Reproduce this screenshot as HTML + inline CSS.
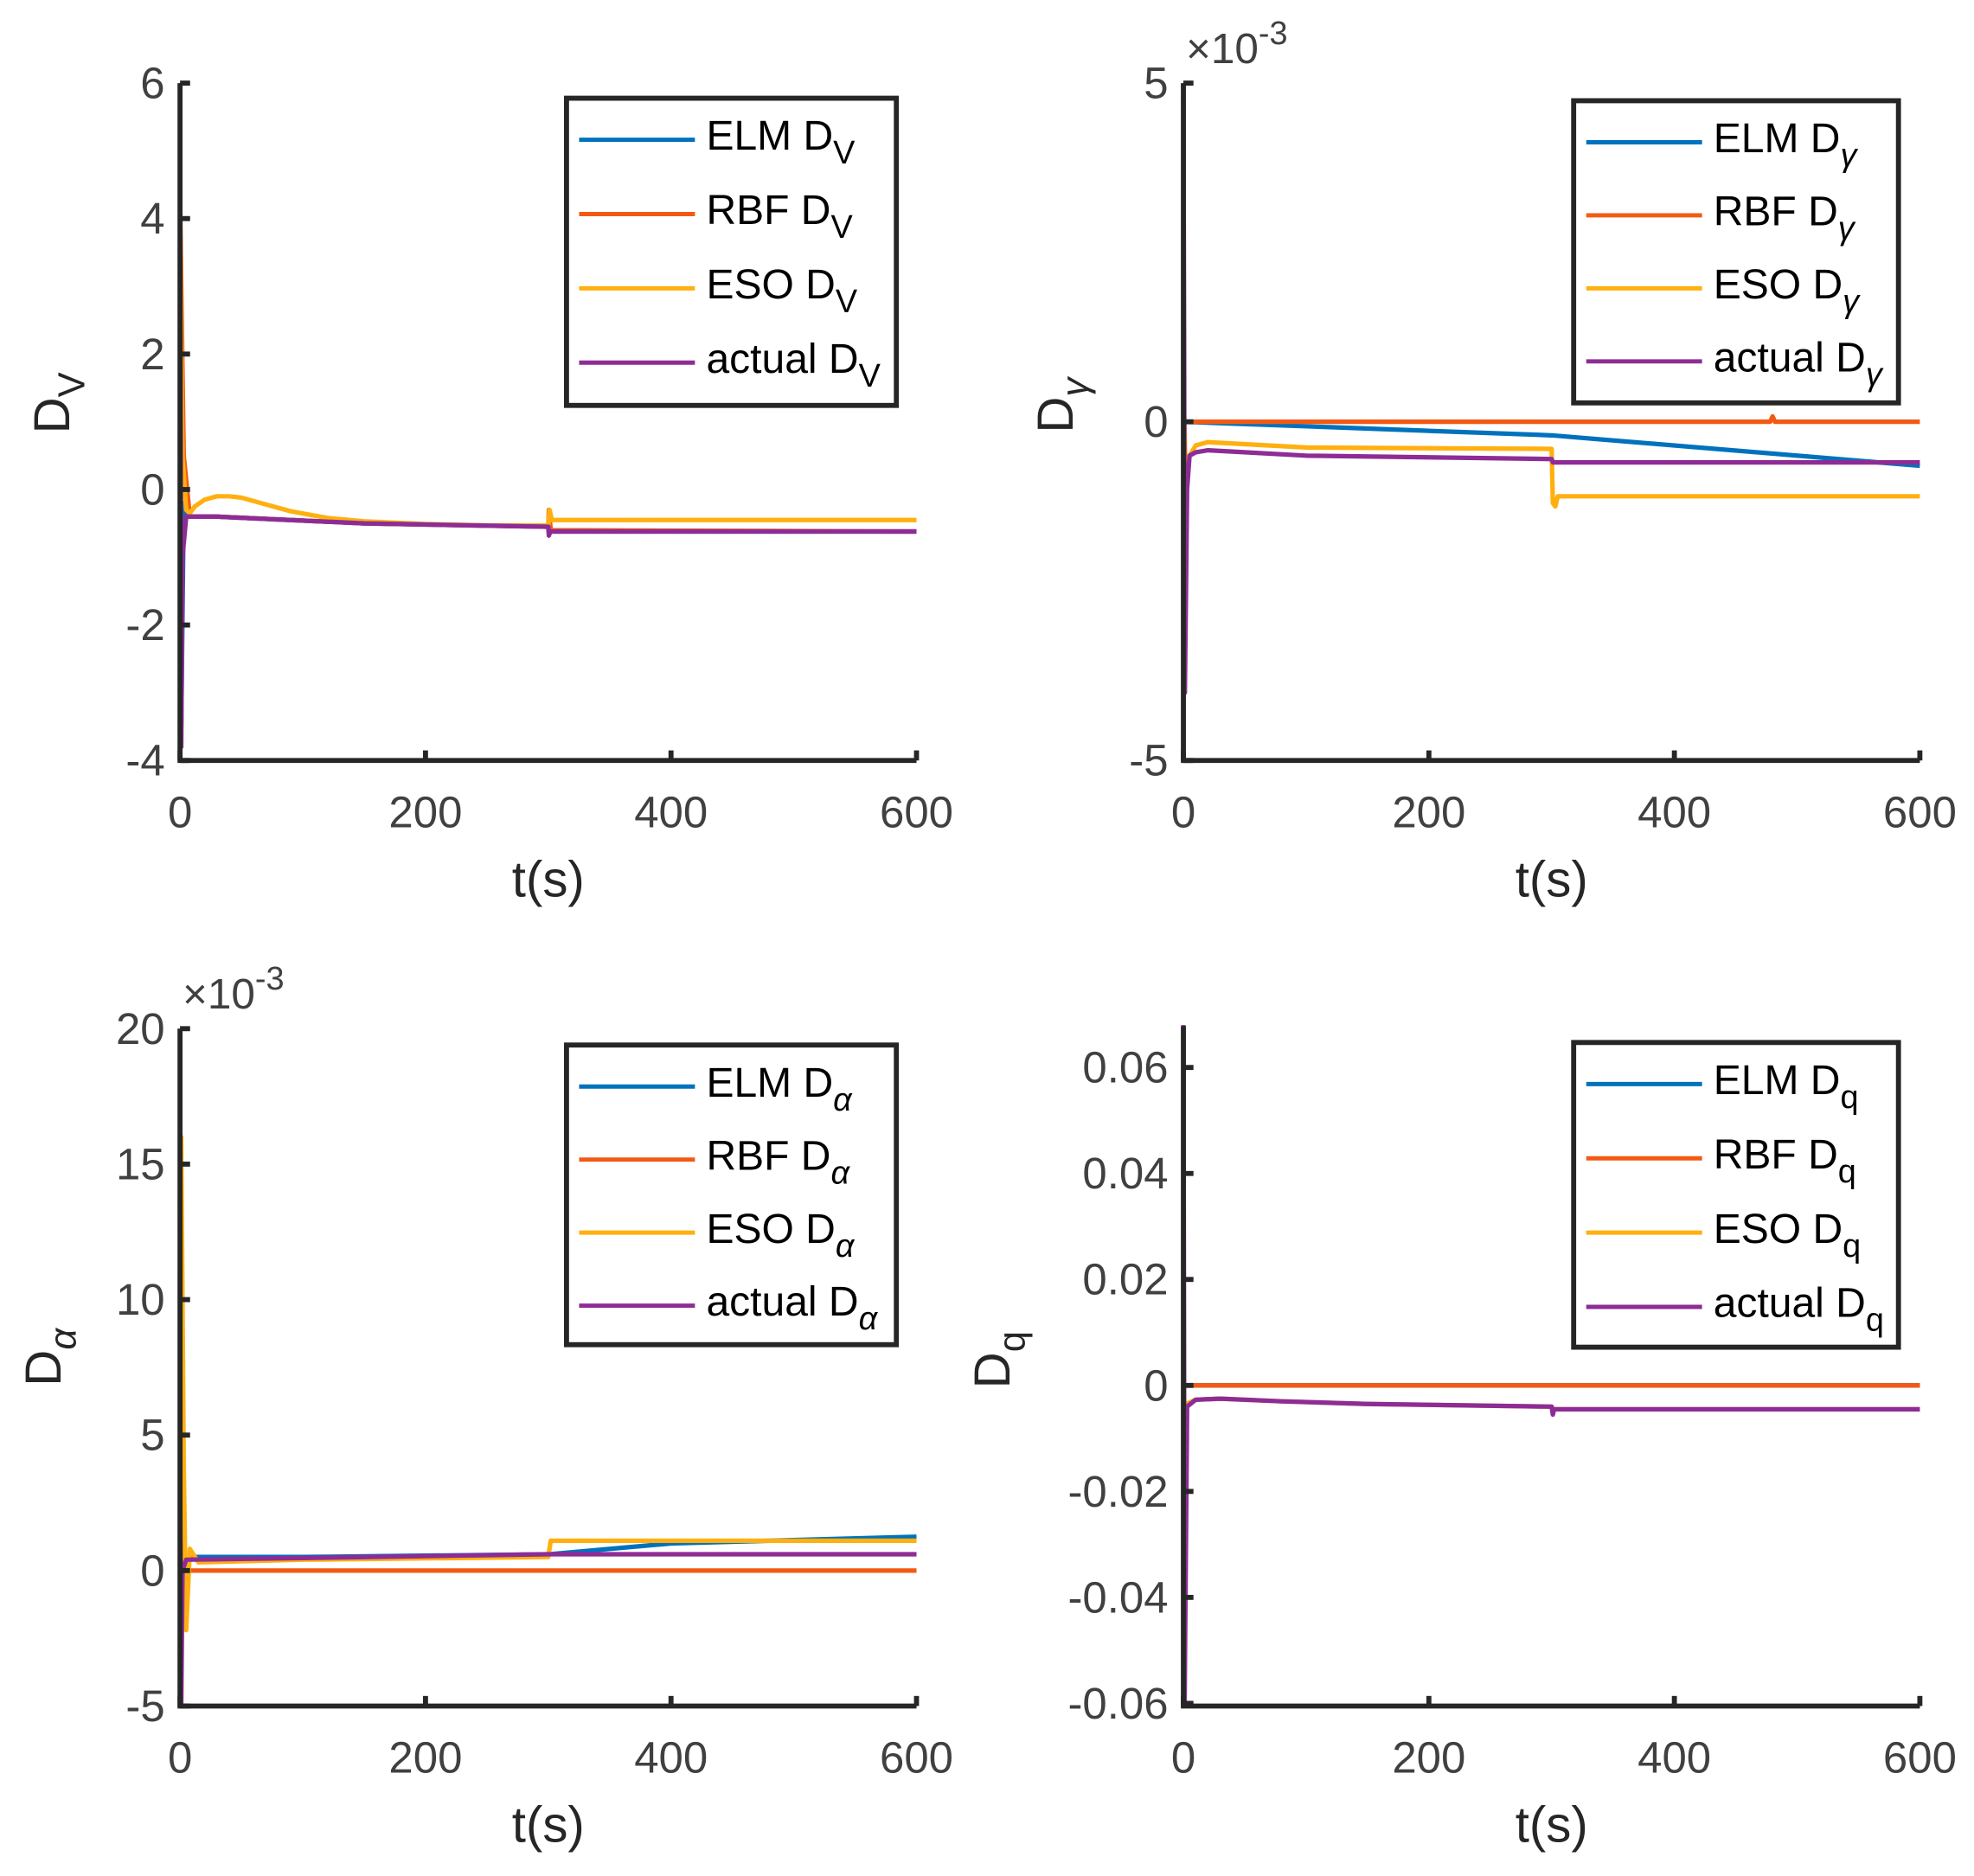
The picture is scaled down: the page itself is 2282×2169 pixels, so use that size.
<!DOCTYPE html>
<html><head><meta charset="utf-8"><style>
html,body{margin:0;padding:0;background:#fff}
svg{display:block}
text{font-family:"Liberation Sans",Arial,sans-serif}
</style></head><body>
<svg id="fig" xmlns="http://www.w3.org/2000/svg" width="2282" height="2169" viewBox="0 0 1568 1490" preserveAspectRatio="none"></svg>
<script>
// ---- Data ----
const xTicks = [0,200,400,600];
// Panel 1: D_V
const dvTicks = [-4,-2,0,2,4,6];
const dvT_elm = [0,1,3,5,30,150,300,301,302,600];
const dvY_elm = [4.3,-3.5,-0.2,-0.4,-0.4,-0.5,-0.55,-0.65,-0.62,-0.62];
const dvT_rbf = [0,3,8,30,150,300,300.5,302,600];
const dvY_rbf = [4.3,0.5,-0.4,-0.4,-0.5,-0.55,-0.3,-0.6,-0.62];
const dvT_eso = [0,2,5,8,12,20,30,40,50,70,90,120,150,200,250,300,301,303,600];
const dvY_eso = [4.0,0.5,-0.3,-0.35,-0.25,-0.15,-0.1,-0.1,-0.12,-0.22,-0.32,-0.42,-0.47,-0.51,-0.53,-0.53,-0.3,-0.45,-0.45];
const dvT_act = [0,0.5,1,2,5,30,150,300,300.5,301,302,600];
const dvY_act = [4.4,1,-3.8,-1,-0.4,-0.4,-0.5,-0.55,-0.68,-0.65,-0.62,-0.62];
// Panel 2: D_gamma (x1e-3)
const dgTicks = [-5,0,5];
const dgT_elm = [0,300,600];
const dgY_elm = [0,-0.2,-0.65];
const dgT_rbf = [0,478,480,482,600];
const dgY_rbf = [0,0,0.08,0,0];
const dgT_eso = [0,2,5,10,20,40,100,300,301,303,305,600];
const dgY_eso = [0.5,-0.8,-0.5,-0.35,-0.3,-0.32,-0.38,-0.4,-1.2,-1.25,-1.1,-1.1];
const dgT_act = [0,0.6,1.2,3,5,10,20,40,100,300,301,600];
const dgY_act = [4.8,1,-4,-1,-0.5,-0.45,-0.42,-0.44,-0.5,-0.55,-0.6,-0.6];
// Panel 3: D_alpha (x1e-3)
const daTicks = [-5,0,5,10,15,20];
const daT_elm = [0,3,100,300,400,600];
const daY_elm = [0,0.5,0.5,0.6,1.0,1.25];
const daT_rbf = [0,1,3,600];
const daY_rbf = [4,1,0,0];
const daT_eso = [0,1,3,5,8,15,100,300,302,600];
const daY_eso = [4,16,4,-2.2,0.8,0.3,0.4,0.5,1.1,1.1];
const daT_act = [0,1,2,5,300,600];
const daY_act = [4,-5,0,0.4,0.6,0.6];
// Panel 4: D_q
const dqTicks = [-0.06,-0.04,-0.02,0,0.02,0.04,0.06];
const dqTickLabels = ["-0.06","-0.04","-0.02","0","0.02","0.04","0.06"];
const dqT_elm = [0,600];
const dqY_elm = [0,0];
const dqT_rbf = [0,600];
const dqY_rbf = [0,0];
const dqT_eso = [0,2,10,30,80,150,300,301,600];
const dqY_eso = [-0.0035,-0.0035,-0.0027,-0.0025,-0.003,-0.0035,-0.004,-0.0045,-0.0045];
const dqT_act = [0,0.5,1,3,10,30,80,150,300,301,302,600];
const dqY_act = [0.068,0.01,-0.06,-0.004,-0.0027,-0.0025,-0.003,-0.0035,-0.004,-0.0055,-0.0045,-0.0045];

const COL = {elm:'#0072BD', rbf:'#F25A14', eso:'#FFB010', act:'#8E2C96'};
const NS = 'http://www.w3.org/2000/svg';
const svg = document.getElementById('fig');
function mk(tag, attrs, parent){const e=document.createElementNS(NS,tag);for(const k in attrs)e.setAttribute(k,attrs[k]);(parent||svg).appendChild(e);return e;}

function panel(cfg){
  const g = mk('g',{});
  
  
  const L=cfg.l,R=cfg.r,T=cfg.t,B=cfg.b;
  const sx = v => L + (v-0)/(600-0)*(R-L);
  const sy = v => B - (v-cfg.ymin)/(cfg.ymax-cfg.ymin)*(B-T);
  const series = [['elm',cfg.elm],['rbf',cfg.rbf],['eso',cfg.eso],['act',cfg.act]];
  series.forEach(([k,[ts,ys]])=>{
    const d = ts.map((t,i)=>(i?'L':'M')+sx(t).toFixed(2)+' '+sy(ys[i]).toFixed(2)).join(' ');
    const p = mk('path',{d:d,fill:'none',stroke:COL[k],'stroke-width':3.6,'stroke-linejoin':'round'},g);
    
    
  });
  const ax = mk('path',{d:`M${L} ${T} L${L} ${B} L${R} ${B}`,fill:'none',stroke:'#262626','stroke-width':4},g);
  
  
  xTicks.forEach(v=>{
    const x=sx(v);
    mk('line',{x1:x,y1:B,x2:x,y2:B-8,stroke:'#262626','stroke-width':4},g);
    const tx=mk('text',{x:x,y:B+53,'text-anchor':'middle','font-size':35,fill:'#404040'},g);
    tx.textContent=v;
    
    
  });
  cfg.yTicks.forEach((v,i)=>{
    const y=sy(v);
    mk('line',{x1:L,y1:y,x2:L+8,y2:y,stroke:'#262626','stroke-width':4},g);
    const tx=mk('text',{x:L-12,y:y+12,'text-anchor':'end','font-size':35,fill:'#404040'},g);
    tx.textContent=cfg.yLabels?cfg.yLabels[i]:v;
    
    
  });
  const xl=mk('text',{x:(L+R)/2,y:B+108,'text-anchor':'middle','font-size':40,fill:'#262626'},g);
  xl.textContent='t(s)';
  
  
  const yl=mk('text',{transform:`translate(${cfg.ylx},${cfg.yly}) rotate(-90)`,'text-anchor':'middle','font-size':40,fill:'#262626'},g);
  yl.innerHTML=`D<tspan dy="12" font-size="30" ${cfg.subStyle||''}>${cfg.sub}</tspan>`;
  
  
  if(cfg.exp){
    const ex=mk('text',{x:L+2,y:T-16,'font-size':34,fill:'#404040'},g);
    ex.innerHTML='×10<tspan dy="-15" font-size="26">-3</tspan>';
    
    
  }
  const lg=mk('g',{},g);
  
  
  mk('rect',{x:cfg.lx,y:cfg.ly,width:cfg.lw,height:cfg.lh,fill:'#fff',stroke:'#262626','stroke-width':4},lg);
  const names=[['elm','ELM'],['rbf','RBF'],['eso','ESO'],['act','actual']];
  names.forEach(([k,n],i)=>{
    const y=cfg.ly+33+i*cfg.lstep;
    mk('line',{x1:cfg.lx+10,y1:y,x2:cfg.lx+102,y2:y,stroke:COL[k],'stroke-width':3.4},lg);
    const t=mk('text',{x:cfg.lx+111,y:y+8,'font-size':33,fill:'#000'},lg);
    t.innerHTML=`${n} D<tspan dy="11" font-size="26" ${cfg.subStyle||''}>${cfg.sub}</tspan>`;
    
    
  });
}

panel({name:'panel-dv',l:143,r:728,t:66,b:604,ymin:-4,ymax:6,yTicks:dvTicks,
  elm:[dvT_elm,dvY_elm],rbf:[dvT_rbf,dvY_rbf],eso:[dvT_eso,dvY_eso],act:[dvT_act,dvY_act],
  ylx:55,yly:320,sub:'V',lx:450,ly:78,lw:262,lh:244,lstep:59});
panel({name:'panel-dgamma',l:940,r:1525,t:66,b:604,ymin:-5,ymax:5,yTicks:dgTicks,exp:true,
  elm:[dgT_elm,dgY_elm],rbf:[dgT_rbf,dgY_rbf],eso:[dgT_eso,dgY_eso],act:[dgT_act,dgY_act],
  ylx:852,yly:322,sub:'γ',subStyle:'font-style="italic"',lx:1250,ly:80,lw:258,lh:240,lstep:58});
panel({name:'panel-dalpha',l:143,r:728,t:817,b:1355,ymin:-5,ymax:20,yTicks:daTicks,exp:true,
  elm:[daT_elm,daY_elm],rbf:[daT_rbf,daY_rbf],eso:[daT_eso,daY_eso],act:[daT_act,daY_act],
  ylx:48,yly:1078,sub:'α',subStyle:'font-style="italic"',lx:450,ly:830,lw:262,lh:238,lstep:58});
panel({name:'panel-dq',l:940,r:1525,t:815,b:1355,ymin:-0.0605,ymax:0.0678,yTicks:dqTicks,yLabels:dqTickLabels,
  elm:[dqT_elm,dqY_elm],rbf:[dqT_rbf,dqY_rbf],eso:[dqT_eso,dqY_eso],act:[dqT_act,dqY_act],
  ylx:802,yly:1080,sub:'q',lx:1250,ly:828,lw:258,lh:242,lstep:59});
</script>
</body></html>
